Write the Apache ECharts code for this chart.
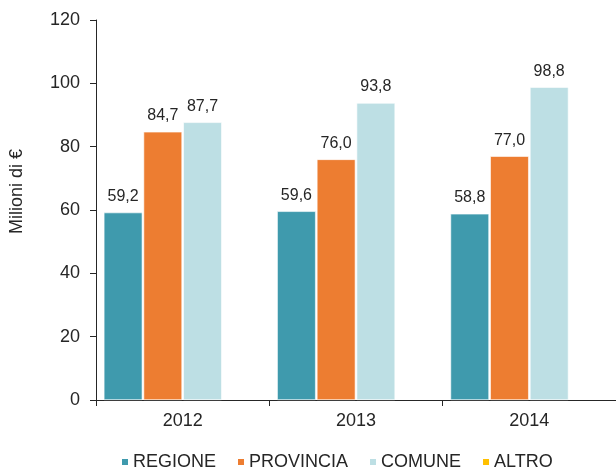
<!DOCTYPE html>
<html><head><meta charset="utf-8">
<script src="https://cdn.jsdelivr.net/npm/echarts@6/dist/echarts.min.js"></script>
<style>html,body{margin:0;padding:0;background:#fff}#c{width:616px;height:472px}</style>
</head><body><div id="c"></div>
<script>
const categories = ['2012', '2013', '2014'];
const regione = [59.2, 59.6, 58.8];
const provincia = [84.7, 76.0, 77.0];
const comune = [87.7, 93.8, 98.8];
const altro = [null, null, null];
const seriesNames = ['REGIONE', 'PROVINCIA', 'COMUNE', 'ALTRO'];
const colors = ['#3f9aad', '#ed7d31', '#bddfe4', '#ffc000'];
const yTicks = [0, 20, 40, 60, 80, 100, 120];

const font = 'Liberation Sans, Arial, sans-serif';
const chart = echarts.init(document.getElementById('c'), null, {renderer: 'canvas'});
const mk = (name, data, color) => ({
  name, type: 'bar', data,
  barGap: '3%', barCategoryGap: '9%',
  itemStyle: {color, borderColor: '#fff', borderWidth: 0.6},
  label: {show: true, position: 'top', distance: 8, color: '#262626', fontFamily: font, fontSize: 16,
    formatter: p => p.value == null ? '' : p.value.toFixed(1).replace('.', ',')}
});
chart.setOption({
  animation: false,
  textStyle: {fontFamily: font},
  grid: {left: 96, right: 0, top: 20, bottom: 72, containLabel: false},
  legend: {
    bottom: 1, left: 120, padding: 0, itemWidth: 8, itemHeight: 8, itemGap: 20,
    icon: 'rect',
    textStyle: {fontFamily: font, fontSize: 18, color: '#262626', padding: [0, 0, 0, -1]},
    data: seriesNames
  },
  xAxis: {
    type: 'category', data: categories,
    axisLine: {lineStyle: {color: '#262626', width: 1}},
    axisTick: {show: true, alignWithLabel: false, length: 6, lineStyle: {color: '#262626'}},
    axisLabel: {color: '#262626', fontSize: 18, fontFamily: font, margin: 12}
  },
  yAxis: {
    type: 'value', min: yTicks[0], max: yTicks[yTicks.length - 1], interval: 20,
    name: 'Milioni di €', nameLocation: 'middle', nameGap: 70, nameRotate: 90,
    nameTextStyle: {color: '#262626', fontSize: 18, fontFamily: font, padding: [0, 0, 0, 37]},
    axisLine: {show: true, lineStyle: {color: '#262626', width: 1}},
    axisTick: {show: true, length: 6, lineStyle: {color: '#262626'}},
    axisLabel: {color: '#262626', fontSize: 18, fontFamily: font, margin: 16},
    splitLine: {show: false}
  },
  series: [
    mk(seriesNames[0], regione, colors[0]),
    mk(seriesNames[1], provincia, colors[1]),
    mk(seriesNames[2], comune, colors[2]),
    mk(seriesNames[3], altro, colors[3])
  ]
});
</script></body></html>
